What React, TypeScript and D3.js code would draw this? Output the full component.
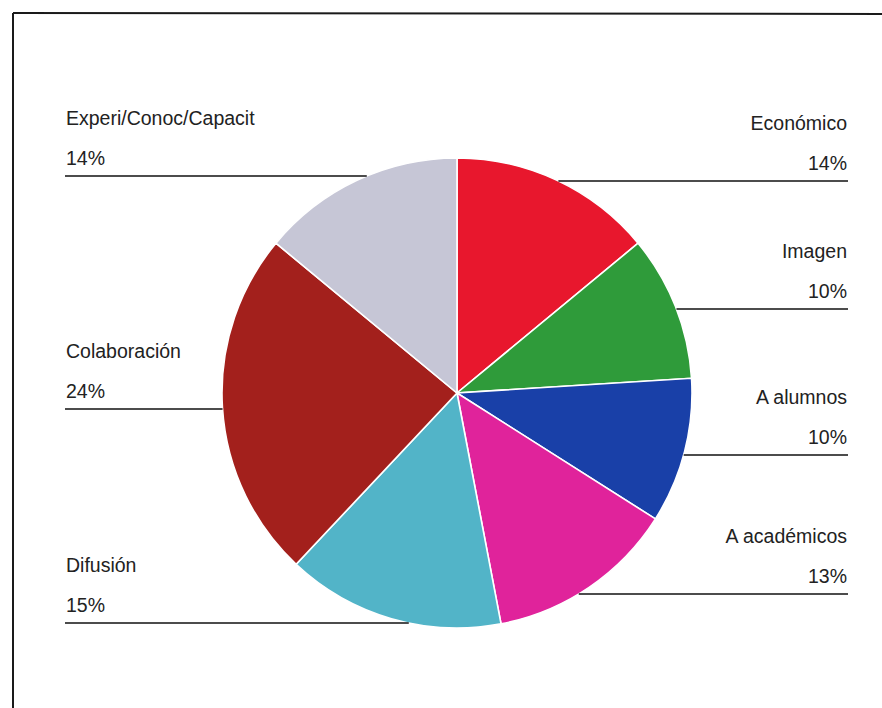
import React from "react";
import * as d3 from "d3";

const categories = [
  "Económico",
  "Imagen",
  "A alumnos",
  "A académicos",
  "Difusión",
  "Colaboración",
  "Experi/Conoc/Capacit",
];
const values = [14, 10, 10, 13, 15, 24, 14];
const colors = ["#e8172d", "#2f9b3a", "#1940a8", "#e0239b", "#52b4c8", "#a3201c", "#c6c6d6"];

// label layout (side and leader-line y position)
const labelSide = ["right", "right", "right", "right", "left", "left", "left"];
const labelLineY = [181, 309, 455, 594, 623, 409, 176];

const W = 882;
const H = 708;
const CX = 457;
const CY = 393;
const R = 235;
const LEFT_X = 65;
const RIGHT_X = 848;
const FONT = "'Liberation Sans', Arial, sans-serif";

export default function App() {
  const data = categories.map((c, i) => ({ name: c, value: values[i], color: colors[i], i }));
  const pie = d3.pie<any>().sort(null).value((d: any) => d.value);
  const arcs = pie(data);
  const arc = d3.arc<any>().innerRadius(0).outerRadius(R);

  return (
    <div style={{ position: "fixed", left: 0, top: 0 }}>
      <svg width={W} height={H} style={{ display: "block", background: "#fff" }}>
        <rect x={0} y={0} width={W} height={H} fill="#fff" />
        <line x1={13} y1={13} x2={W} y2={14} stroke="#1a1a1a" strokeWidth={2} />
        <line x1={13} y1={13} x2={13} y2={H} stroke="#1a1a1a" strokeWidth={2} />
        <g transform={`translate(${CX},${CY})`}>
          {arcs.map((a, k) => (
            <path key={k} d={arc(a) as string} fill={a.data.color} stroke="#ffffff" strokeWidth={1.6} />
          ))}
        </g>
        {data.map((d, i) => {
          const y = labelLineY[i];
          const dy = y - CY;
          const half = Math.sqrt(Math.max(0, R * R - dy * dy));
          const isLeft = labelSide[i] === "left";
          const x1 = isLeft ? LEFT_X : CX + half;
          const x2 = isLeft ? CX - half : RIGHT_X;
          const tx = isLeft ? LEFT_X + 1 : RIGHT_X - 1;
          const anchor = isLeft ? "start" : "end";
          return (
            <g key={i}>
              <line x1={x1} y1={y} x2={x2} y2={y} stroke="#111" strokeWidth={1.6} />
              <text x={tx} y={y - 51} textAnchor={anchor} fontFamily={FONT} fontSize={19.5} fill="#222">
                {d.name}
              </text>
              <text x={tx} y={y - 11} textAnchor={anchor} fontFamily={FONT} fontSize={19.5} fill="#222">
                {`${d.value}%`}
              </text>
            </g>
          );
        })}
      </svg>
    </div>
  );
}
